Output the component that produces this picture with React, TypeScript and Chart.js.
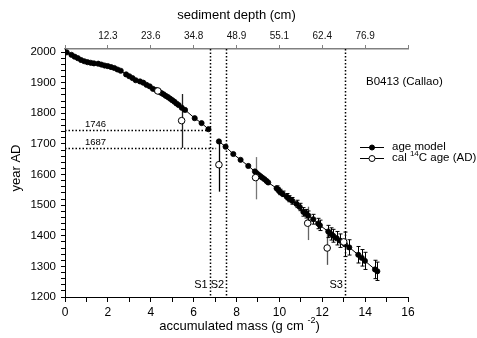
import React, { useEffect, useRef } from 'react';
import { Chart, registerables } from 'chart.js';
Chart.register(...registerables);

// Age model (upper segment, above hiatus S1)
const modelUpperX = [0.08, 0.3, 0.45, 0.6, 0.75, 0.9, 1.05, 1.2, 1.35, 1.55, 1.7, 1.85, 2.0, 2.15, 2.3, 2.45, 2.6, 2.85, 3.0, 3.15, 3.3, 3.5, 3.65, 3.8, 3.95, 4.1, 4.25, 4.4, 4.5, 4.6, 4.7, 4.8, 4.9, 5.0, 5.1, 5.2, 5.3, 5.45, 5.6, 6.05, 6.37, 6.69];
const modelUpperYear = [1999, 1991, 1985, 1980, 1974, 1970, 1967, 1965, 1963, 1962, 1959, 1956, 1954, 1951, 1948, 1943, 1939, 1927, 1921, 1915, 1908, 1904, 1900, 1893, 1888, 1880, 1876, 1870, 1866, 1862, 1857, 1853, 1848, 1843, 1838, 1832, 1827, 1818, 1811, 1784, 1768, 1748];
// Age model (lower segment, below hiatus)
const modelLowerX = [7.18, 7.49, 7.85, 8.19, 8.55, 8.86, 8.95, 9.05, 9.12, 9.2, 9.3, 9.4, 9.48, 9.87, 9.95, 10.03, 10.15, 10.34, 10.45, 10.6, 10.8, 10.95, 11.12, 11.25, 11.35, 11.58, 11.81, 11.89, 12.28, 12.4, 12.51, 12.67, 12.83, 13.06, 13.26, 13.68, 13.84, 13.99, 14.46, 14.57];
const modelLowerYear = [1708, 1691, 1667, 1648, 1628, 1610, 1604, 1598, 1594, 1590, 1585, 1579, 1574, 1555, 1550, 1543, 1537, 1528, 1521, 1514, 1504, 1494, 1478, 1472, 1466, 1454, 1440, 1434, 1414, 1406, 1400, 1392, 1384, 1372, 1362, 1338, 1328, 1318, 1290, 1284];
const modelLowerErr = [0, 0, 0, 0, 0, 0, 0, 0, 0, 0, 0, 0, 0, 8, 8, 9, 9, 10, 10, 11, 12, 12, 14, 14, 15, 16, 17, 17, 20, 20, 21, 22, 22, 40, 25, 27, 27, 28, 30, 30];

// Calibrated 14C ages (AD)
const c14X = [4.33, 5.44, 7.18, 8.89, 11.32, 12.23, 13.0];
const c14Year = [1873, 1776, 1632, 1590, 1441, 1360, 1380];
const c14Low = [1873, 1687, 1544, 1519, 1386, 1305, 1380];
const c14High = [1873, 1863, 1715, 1657, 1495, 1413, 1380];
const c14BarColor = ['#000', '#222', '#000', '#777', '#666', '#555', '#000'];

// Top axis (sediment depth) labels at mass = 2,4,...,14
const depthLabels = ['12.3', '23.6', '34.8', '48.9', '55.1', '62.4', '76.9'];

// Hiatus lines and reference years
const hiatusX = [6.75, 7.52, 13.06];
const hiatusLabels = ['S1', 'S2', 'S3'];
const refYears = [1746, 1687];
const refEndX = [6.75, 7.05];

const FONT = "'Liberation Sans', Arial, sans-serif";

export default function App() {
  const ref = useRef<HTMLCanvasElement | null>(null);
  useEffect(() => {
    const canvas = ref.current;
    if (!canvas) return;

    const upper = modelUpperX.map((x, i) => ({ x, y: modelUpperYear[i] }));
    const lower = modelLowerX.map((x, i) => ({ x, y: modelLowerYear[i] }));
    const modelData: any[] = [...upper, { x: 6.9, y: null }, ...lower];
    const c14Data = c14X.map((x, i) => ({ x, y: c14Year[i] }));

    const overlay = {
      id: 'overlay',
      beforeDatasetsDraw(chart: any) {
        const ctx = chart.ctx;
        const xs = chart.scales.x;
        const ys = chart.scales.y;
        const area = chart.chartArea;
        ctx.save();
        // dotted hiatus lines
        ctx.setLineDash([1.5, 2]);
        ctx.lineWidth = 1.5;
        ctx.strokeStyle = '#000';
        hiatusX.forEach((hx) => {
          const px = Math.round(xs.getPixelForValue(hx)) + 0.5;
          ctx.beginPath();
          ctx.moveTo(px, area.top);
          ctx.lineTo(px, area.bottom);
          ctx.stroke();
        });
        refYears.forEach((yr, i) => {
          const py = Math.round(ys.getPixelForValue(yr)) + 0.5;
          ctx.beginPath();
          ctx.moveTo(area.left, py);
          ctx.lineTo(xs.getPixelForValue(refEndX[i]), py);
          ctx.stroke();
        });
        ctx.setLineDash([]);
        // c14 error bars
        ctx.lineWidth = 1.3;
        c14X.forEach((cx, i) => {
          if (c14Low[i] === c14High[i]) return;
          const px = Math.round(xs.getPixelForValue(cx)) + 0.5;
          ctx.strokeStyle = c14BarColor[i];
          ctx.beginPath();
          ctx.moveTo(px, ys.getPixelForValue(c14High[i]));
          ctx.lineTo(px, ys.getPixelForValue(c14Low[i]));
          ctx.stroke();
        });
        // age model error bars with caps
        ctx.strokeStyle = '#000';
        ctx.lineWidth = 1;
        modelLowerX.forEach((mx, i) => {
          const e = modelLowerErr[i];
          if (!e) return;
          const px = Math.round(xs.getPixelForValue(mx)) + 0.5;
          const t = ys.getPixelForValue(modelLowerYear[i] + e);
          const b = ys.getPixelForValue(modelLowerYear[i] - e);
          ctx.beginPath();
          ctx.moveTo(px, t);
          ctx.lineTo(px, b);
          ctx.moveTo(px - 2, t);
          ctx.lineTo(px + 2, t);
          ctx.moveTo(px - 2, b);
          ctx.lineTo(px + 2, b);
          ctx.stroke();
        });
        ctx.restore();
      },
      afterDraw(chart: any) {
        const ctx = chart.ctx;
        const xs = chart.scales.x;
        const ys = chart.scales.y;
        const area = chart.chartArea;
        ctx.save();
        ctx.fillStyle = '#000';
        // hiatus labels
        ctx.font = `11px ${FONT}`;
        ctx.textAlign = 'right';
        ctx.textBaseline = 'middle';
        hiatusX.forEach((hx, i) => {
          ctx.fillText(hiatusLabels[i], xs.getPixelForValue(hx) - 2, 285);
        });
        // reference year labels
        ctx.font = `9.5px ${FONT}`;
        ctx.textAlign = 'left';
        ctx.textBaseline = 'alphabetic';
        refYears.forEach((yr) => {
          ctx.fillText(String(yr), 85, ys.getPixelForValue(yr) - 3);
        });
        // core name
        ctx.font = `11.5px ${FONT}`;
        ctx.textBaseline = 'middle';
        ctx.fillText('B0413 (Callao)', 366, 82);
        // legend
        const rows = [147, 158];
        rows.forEach((ry, i) => {
          ctx.strokeStyle = '#000';
          ctx.lineWidth = 1;
          ctx.beginPath();
          ctx.moveTo(360, ry + 0.5);
          ctx.lineTo(384, ry + 0.5);
          ctx.stroke();
          ctx.beginPath();
          ctx.arc(372, ry + 0.5, i === 0 ? 2.5 : 3, 0, Math.PI * 2);
          ctx.fillStyle = i === 0 ? '#000' : '#fff';
          ctx.fill();
          ctx.stroke();
        });
        ctx.fillStyle = '#000';
        ctx.font = `11.5px ${FONT}`;
        ctx.fillText('age model', 392, rows[0]);
        let tx = 392;
        ctx.fillText('cal ', tx, rows[1]);
        tx += ctx.measureText('cal ').width;
        ctx.font = `8px ${FONT}`;
        ctx.fillText('14', tx, rows[1] - 4);
        tx += ctx.measureText('14').width;
        ctx.font = `11.5px ${FONT}`;
        ctx.fillText('C age (AD)', tx, rows[1]);
        // axis titles
        ctx.font = `13px ${FONT}`;
        ctx.textAlign = 'center';
        ctx.fillText('sediment depth (cm)', (area.left + area.right) / 2, 15);
        // bottom title with superscript
        const part1 = 'accumulated mass (g cm ';
        const sup = '-2';
        const part3 = ')';
        ctx.font = `13px ${FONT}`;
        const w1 = ctx.measureText(part1).width;
        const w3 = ctx.measureText(part3).width;
        ctx.font = `9px ${FONT}`;
        const w2 = ctx.measureText(sup).width;
        const total = w1 + w2 + w3;
        let bx = (area.left + area.right) / 2 + 3 - total / 2;
        ctx.textAlign = 'left';
        ctx.font = `13px ${FONT}`;
        ctx.fillText(part1, bx, 326);
        bx += w1;
        ctx.font = `9px ${FONT}`;
        ctx.fillText(sup, bx, 321);
        bx += w2;
        ctx.font = `13px ${FONT}`;
        ctx.fillText(part3, bx, 326);
        // y title
        ctx.save();
        ctx.translate(16, 168);
        ctx.rotate(-Math.PI / 2);
        ctx.textAlign = 'center';
        ctx.fillText('year AD', 0, 0);
        ctx.restore();
        ctx.restore();
      },
    };

    const chart = new Chart(canvas, {
      type: 'scatter',
      data: {
        datasets: [
          {
            label: 'cal 14C age (AD)',
            data: c14Data,
            showLine: false,
            pointRadius: 3.3,
            pointBorderWidth: 1,
            pointBackgroundColor: '#fff',
            pointBorderColor: '#000',
          },
          {
            label: 'age model',
            data: modelData,
            showLine: true,
            spanGaps: false,
            borderColor: '#000',
            borderWidth: 1,
            pointRadius: 2.6,
            pointBorderWidth: 0.8,
            pointBackgroundColor: '#000',
            pointBorderColor: '#000',
          } as any,
        ],
      },
      options: {
        animation: false,
        responsive: false,
        devicePixelRatio: 1,
        layout: { padding: { left: 0, right: 69, top: 0, bottom: 0 } },
        plugins: { legend: { display: false }, tooltip: { enabled: false } },
        scales: {
          x: {
            type: 'linear',
            position: 'bottom',
            min: 0,
            max: 16,
            ticks: {
              stepSize: 1,
              autoSkip: false,
              maxRotation: 0,
              color: '#000',
              font: { family: FONT, size: 12 },
              padding: 3,
              callback: (v: any) => (Number(v) % 2 === 0 ? String(v) : ''),
            },
            grid: { drawOnChartArea: false, drawTicks: true, tickLength: 5, color: '#000' },
            border: { display: true, color: '#000', width: 1 },
            afterFit: (s: any) => { s.height = 41; },
          },
          x2: {
            type: 'linear',
            axis: 'x',
            position: 'top',
            min: 0,
            max: 16,
            ticks: {
              stepSize: 2,
              autoSkip: false,
              maxRotation: 0,
              color: '#111',
              font: { family: FONT, size: 10 },
              padding: 3,
              callback: (v: any) => {
                const n = Number(v);
                if (n >= 2 && n <= 14) return depthLabels[n / 2 - 1];
                return '';
              },
            },
            grid: { drawOnChartArea: false, drawTicks: true, tickLength: 4, color: '#808080' },
            border: { display: true, color: '#808080', width: 1.5 },
            afterFit: (s: any) => { s.height = 49; },
          },
          y: {
            type: 'linear',
            position: 'left',
            min: 1200,
            max: 2010,
            afterBuildTicks: (s: any) => {
              const t: any[] = [];
              for (let v = 1200; v <= 2000; v += 20) t.push({ value: v });
              s.ticks = t;
            },
            ticks: {
              stepSize: 20,
              autoSkip: false,
              color: '#000',
              font: { family: FONT, size: 11.5 },
              padding: 5,
              callback: (v: any) => (Number(v) % 100 === 0 ? String(v) : ''),
            },
            grid: { drawOnChartArea: false, drawTicks: true, tickLength: 4, color: '#000' },
            border: { display: true, color: '#000', width: 1 },
            afterFit: (s: any) => { s.width = 65; },
          },
        },
      } as any,
      plugins: [overlay],
    });
    return () => chart.destroy();
  }, []);

  return (
    <div style={{ position: 'fixed', left: 0, top: 0, width: 477, height: 338, background: '#fff' }}>
      <canvas ref={ref} width={477} height={338} style={{ width: 477, height: 338, display: 'block' }} />
    </div>
  );
}
